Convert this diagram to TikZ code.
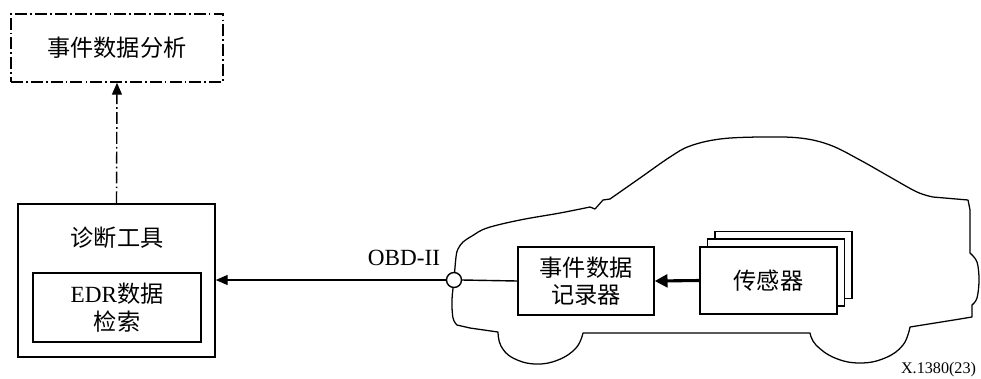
\documentclass[tikz,border=0pt]{standalone}
\usepackage{fontspec}
\setmainfont{Liberation Serif}
\newfontfamily\cjk{Noto Sans CJK SC}
\usetikzlibrary{arrows.meta}

\begin{document}
\begin{tikzpicture}[x=0.025cm, y=-0.025cm,
  every node/.style={font=\fontsize{16.5}{19.5}\selectfont},
  block/.style={draw, line width=1pt, fill=white, align=center, inner sep=0pt},
  dashdot/.style={line width=1pt, dash pattern=on 8.5pt off 2.2pt on 1.2pt off 2.2pt},
  arr/.style={-{Triangle[length=0.3cm, width=0.25cm]}}]
\useasboundingbox (0,0) rectangle (981,378);

% car body, drawn first so the port sits on top of it
\draw[line width=0.9pt, line join=round]
  plot[smooth, tension=0.6] coordinates {(454,280) (456,257) (458,249) (463,242)
    (472,236) (487,228) (520,220) (560,213) (590,207)}
  -- (595,209) -- (603,200) -- (610,199)
  -- plot[smooth, tension=0.6] coordinates {(610,199) (640,178) (670,157) (690,146)
    (720,139) (760,137) (800,138) (830,145) (860,160) (890,177) (917,192) (933,197)}
  -- (968,200) -- (970,210) -- (970,253)
  -- plot[smooth, tension=0.6] coordinates {(970,253) (977,262) (979,280) (977,298) (972,305)}
  -- (972,317) -- (960,319) -- (910,327)
  -- plot[smooth, tension=0.7] coordinates {(910,327) (903,345) (885,358) (860,363)
    (835,358) (816,345) (810,333)}
  -- (583,333)
  -- plot[smooth, tension=0.7] coordinates {(583,333) (576,348) (558,360) (535,364)
    (513,358) (501,346) (498,332)}
  -- (470,328) -- (457,325)
  -- plot[smooth, tension=0.6] coordinates {(457,325) (453,318) (452,300) (454,280)};

% boxes
\node[block, dashdot, minimum width=5.3cm, minimum height=1.7cm] (ana) at (117,48)
  {\cjk 事件数据分析};
\node[block, minimum width=4.925cm, minimum height=3.825cm] (tool) at (116.5,280.5) {};
\node (tooltext) at (117,238) {\cjk 诊断工具};
\node[block, minimum width=4.2cm, minimum height=1.725cm] (edr) at (117,307.5)
  {EDR{\cjk 数据}\\{\cjk 检索}};
\node[block, minimum width=3.4cm, minimum height=1.7cm] (rec) at (586,281)
  {{\cjk 事件数据}\\{\cjk 记录器}};

% stacked sensors
\node[block, minimum width=3.425cm, minimum height=1.675cm] (sens3) at (783.5,265) {};
\node[block, minimum width=3.425cm, minimum height=1.675cm] (sens2) at (776,272.5) {};
\node[block, minimum width=3.425cm, minimum height=1.675cm] (sens) at (768.5,280.5)
  {\cjk 传感器};

% OBD-II port
\node[draw, circle, line width=1pt, fill=white, minimum size=0.375cm, inner sep=0pt]
  (port) at (454,280) {};
\node[anchor=east] (obd) at (445,258) {OBD-II};

% connections
\draw[line width=1pt] (port.east) -- (rec.west);
\draw[line width=1pt, arr] (port.west) -- (port.west -| tool.east);
\draw[line width=2.2pt, -{Triangle[length=0.32cm, width=0.32cm]}] (sens.west) -- (rec.east);
\draw[dashdot, arr] (tool.north) -- (ana.south);

\node[anchor=east, font=\fontsize{11.5}{13}\selectfont] (fig) at (981,370) {X.1380(23)};
\end{tikzpicture}
\end{document}
